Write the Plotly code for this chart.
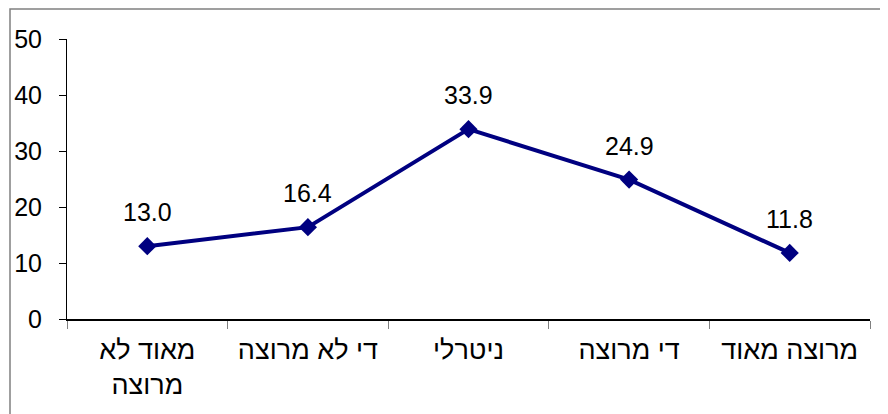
import plotly.graph_objects as go

categories = ["מאוד לא<br>מרוצה", "די לא מרוצה", "ניטרלי", "די מרוצה", "מרוצה מאוד"]
values = [13.0, 16.4, 33.9, 24.9, 11.8]
y_ticks = [0, 10, 20, 30, 40, 50]

# page has an 8px body margin: figure is placed at (8, 8)
OFF = 8
W, H = 888 - OFF, 414 - OFF
L, R, T, B = 67 - OFF, 18, 39 - OFF, 95
pw, ph = W - L - R, H - T - B
FONT = "Liberation Sans, Arial"

fig = go.Figure()
fig.add_trace(go.Scatter(
    x=categories, y=values,
    mode="lines+markers",
    line=dict(color="#000080", width=4),
    marker=dict(symbol="diamond", size=14, color="#000080"),
    cliponaxis=False,
    hoverinfo="skip",
))

for c, v in zip(categories, values):
    fig.add_annotation(
        x=c, y=v, text=f"{v:.1f}", showarrow=False,
        yshift=34, font=dict(family=FONT, size=25, color="black"),
    )

fig.update_layout(
    width=W, height=H,
    margin=dict(l=L, r=R, t=T, b=B, autoexpand=False),
    paper_bgcolor="white", plot_bgcolor="white",
    showlegend=False,
    font=dict(family=FONT, size=25, color="black"),
    xaxis=dict(
        type="category", automargin=False,
        showline=True, linecolor="black", linewidth=1.5,
        ticks="outside", tickson="boundaries", ticklen=8, tickcolor="#808080",
        showgrid=False, zeroline=False,
        tickfont=dict(size=27),
        ticklabelstandoff=6,
        range=[-0.5, 4.5],
    ),
    yaxis=dict(
        range=[0, 50], tickvals=y_ticks, automargin=False,
        showline=True, linecolor="black", linewidth=1,
        ticks="outside", ticklen=7, tickcolor="black",
        showgrid=False, zeroline=False,
        tickfont=dict(size=25),
        ticklabelstandoff=12,
    ),
)

# outer chart border (partially cropped in the reference)
fig.add_shape(
    type="rect", xref="paper", yref="paper",
    x0=(10 - OFF - L) / pw, x1=(W + 20 - L) / pw,
    y0=-(H + 20 - T - ph) / ph, y1=1 + (T - (9 - OFF)) / ph,
    line=dict(color="#808080", width=1.5), fillcolor="rgba(0,0,0,0)",
    layer="below",
)

fig.write_html("out.html")
